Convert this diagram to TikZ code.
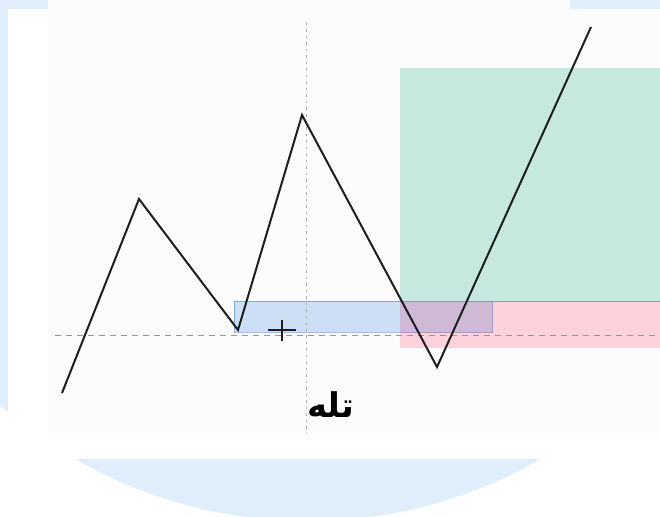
\documentclass[tikz,border=0pt]{standalone}
\usepackage{fontspec}
\newfontfamily\arabicfont[Script=Arabic]{DejaVu Sans}
\TeXXeTstate=1
\usetikzlibrary{positioning}
\definecolor{disc}{RGB}{223,238,250}
\definecolor{panel}{RGB}{252,252,252}
\definecolor{gain}{RGB}{197,232,223}
\definecolor{loss}{RGB}{255,209,218}
\definecolor{zonefill}{RGB}{207,226,248}
\definecolor{zoneedge}{RGB}{165,192,232}
\definecolor{guide}{RGB}{150,150,150}
\definecolor{seam}{RGB}{140,160,165}
\definecolor{ink}{RGB}{30,30,30}
\tikzset{
  price/.style ={draw=ink, line width=2pt, line join=miter},
  hguide/.style={draw=guide, line width=.7pt, dash pattern=on 6pt off 5pt},
  vguide/.style={draw=guide!80, line width=.8pt, dash pattern=on 2.5pt off 4pt},
  tpbox/.style ={fill=gain},
  slbox/.style ={fill=loss},
  zone/.style  ={fill=zonefill, draw=zoneedge, line width=.5pt},
  lbl/.style   ={font=\arabicfont\bfseries\fontsize{34}{38}\selectfont, inner sep=0pt},
}

\begin{document}
\begin{tikzpicture}[x=1pt,y=-1pt]
    \useasboundingbox (0,0) rectangle (660,516);
    % backdrop
    \fill[white] (0,0) rectangle (660,516);
    \fill[disc] (308,54) circle (467);
    \fill[white] (8,9) rectangle (660,459);
    \fill[panel] (48,0) rectangle (570,9);
    \fill[panel] (48,9) rectangle (660,433);

    % target and stop zones
    \fill[tpbox] (400,68) rectangle (660,301);
    \fill[slbox] (400,301) rectangle (660,348);
    \begin{scope}[blend mode=multiply]
      \filldraw[zone] (234,301) rectangle (492,332);
    \end{scope}
    \draw[seam, line width=.5pt] (400,301) -- (660,301);

    % guides
    \draw[hguide] (55,335) -- (660,335);
    \draw[vguide] (306,23) -- (306,433);

    % swing points
    \coordinate (p0) at (62,393);
    \coordinate (h1) at (139,199);
    \coordinate (l1) at (238,330);
    \coordinate (h2) at (302,115);
    \coordinate (l2) at (437,367);
    \coordinate (p5) at (591,27);
    \draw[price] (p0) -- (h1) -- (l1) -- (h2) -- (l2) -- (p5);

    % cursor
    \coordinate (cross) at (282,330);
    \draw[ink, line width=1.1pt] ([xshift=-14pt]cross) -- ([xshift=14pt]cross);
    \draw[ink, line width=1.1pt] ([yshift=-10.5pt]cross) -- ([yshift=10.5pt]cross);

    \node[lbl] (trap) at (331,405) {\beginR تله\endR};
\end{tikzpicture}
\end{document}
